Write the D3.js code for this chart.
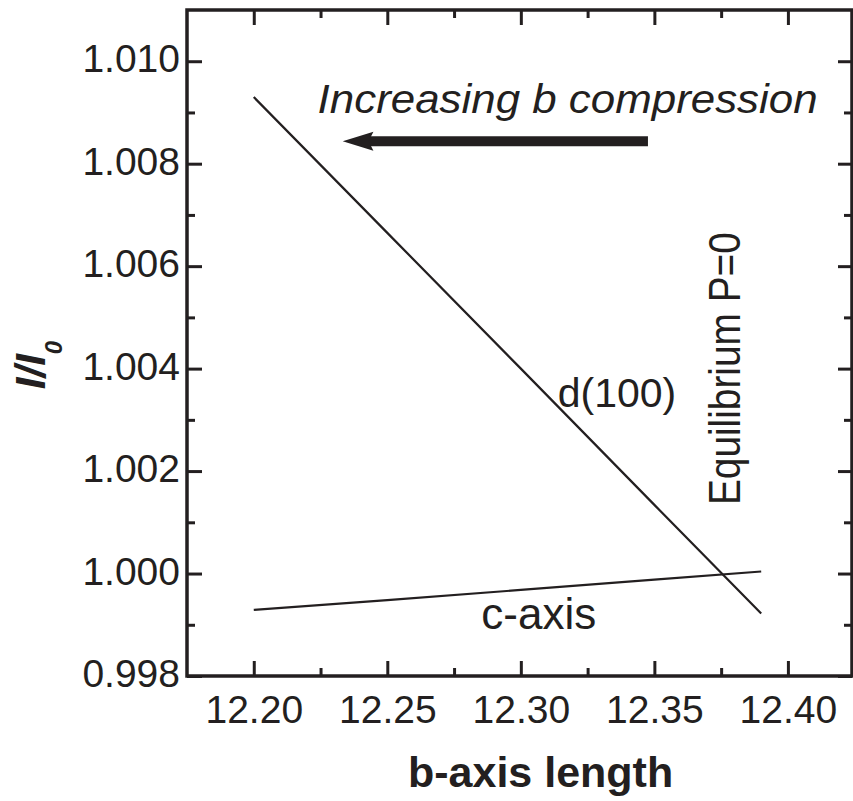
<!DOCTYPE html>
<html>
<head>
<meta charset="utf-8">
<script src="https://cdn.jsdelivr.net/npm/d3@7"></script>
<style>
  body { margin: 0; background: #fff; }
  svg text { font-family: "Liberation Sans", Arial, sans-serif; fill: #231f20; }
</style>
</head>
<body>
<div id="chart"></div>
<script>
var width = 853,
    height = 801,
    ink = "#231f20";

// data
var bLength = [12.20, 12.25, 12.30, 12.35, 12.39];
var d100 = [1.00930, 1.00665, 1.00400, 1.00134, 0.99922];
var cAxis = [0.99929, 0.99948, 0.99968, 0.99988, 1.00004];

var xTicks = [12.20, 12.25, 12.30, 12.35, 12.40];
var xMinor = [12.225, 12.275, 12.325, 12.375];
var yTicks = [0.998, 1.000, 1.002, 1.004, 1.006, 1.008, 1.010];
var yMinor = [0.999, 1.001, 1.003, 1.005, 1.007, 1.009];

var svg = d3.select("#chart").append("svg")
  .attr("width", width)
  .attr("height", height);

// plot box edges (window.top is read-only, so no bare "top")
var boxL = 187, boxR = 852, boxT = 10, boxB = 676;

var x = d3.scaleLinear().domain([12.175, 12.424]).range([boxL, boxR]);
var y = d3.scaleLinear().domain([0.998, 1.011]).range([boxB, boxT]);

// axes, ticks pointing inward on all four sides
function styleAxis(sel) {
  sel.select(".domain").remove();
  sel.selectAll(".tick line").attr("stroke", ink).attr("stroke-width", 3);
  sel.selectAll(".tick text").style("font-size", "39px").attr("fill", ink);
}

svg.append("g").attr("transform", "translate(0," + boxB + ")")
  .call(d3.axisBottom(x).tickValues(xTicks).tickFormat(d3.format(".2f")).tickSize(-15).tickPadding(19))
  .call(styleAxis);
svg.append("g").attr("transform", "translate(0," + boxB + ")")
  .call(d3.axisBottom(x).tickValues(xMinor).tickFormat("").tickSize(-8))
  .call(styleAxis);
svg.append("g").attr("transform", "translate(0," + boxT + ")")
  .call(d3.axisTop(x).tickValues(xTicks).tickFormat("").tickSize(-15))
  .call(styleAxis);
svg.append("g").attr("transform", "translate(0," + boxT + ")")
  .call(d3.axisTop(x).tickValues(xMinor).tickFormat("").tickSize(-8))
  .call(styleAxis);

svg.append("g").attr("transform", "translate(" + boxL + ",0)")
  .call(d3.axisLeft(y).tickValues(yTicks).tickFormat(d3.format(".3f")).tickSize(-15).tickPadding(7))
  .call(styleAxis)
  .selectAll(".tick text").attr("dy", "0.27em");
svg.append("g").attr("transform", "translate(" + boxL + ",0)")
  .call(d3.axisLeft(y).tickValues(yMinor).tickFormat("").tickSize(-8))
  .call(styleAxis);
svg.append("g").attr("transform", "translate(" + boxR + ",0)")
  .call(d3.axisRight(y).tickValues(yTicks).tickFormat("").tickSize(-14))
  .call(styleAxis);
svg.append("g").attr("transform", "translate(" + boxR + ",0)")
  .call(d3.axisRight(y).tickValues(yMinor).tickFormat("").tickSize(-8))
  .call(styleAxis);

// frame
svg.append("rect")
  .attr("x", boxL).attr("y", boxT)
  .attr("width", boxR - boxL).attr("height", boxB - boxT)
  .attr("fill", "none")
  .attr("stroke", ink)
  .attr("stroke-width", 3.5);

// curves
var line = d3.line()
  .x(function(d) { return x(d[0]); })
  .y(function(d) { return y(d[1]); });

[d100, cAxis].forEach(function(series) {
  svg.append("path")
    .datum(bLength.map(function(b, i) { return [b, series[i]]; }))
    .attr("d", line)
    .attr("fill", "none")
    .attr("stroke", ink)
    .attr("stroke-width", 2.2);
});

// arrow
var ay = y(1.00844);
svg.append("line")
  .attr("x1", x(12.3476)).attr("x2", x(12.2420))
  .attr("y1", ay).attr("y2", ay)
  .attr("stroke", ink)
  .attr("stroke-width", 10);
svg.append("path")
  .attr("d", "M" + x(12.2333) + "," + ay +
             "L" + x(12.2448) + "," + (ay - 9.5) +
             "L" + x(12.2430) + "," + ay +
             "L" + x(12.2448) + "," + (ay + 9.5) + "Z")
  .attr("fill", ink);

// annotations
svg.append("text")
  .attr("x", x(12.2239)).attr("y", y(1.008985))
  .attr("textLength", 500)
  .attr("lengthAdjust", "spacingAndGlyphs")
  .style("font-size", "40px")
  .style("font-style", "italic")
  .text("Increasing b compression");

svg.append("text")
  .attr("x", x(12.3138)).attr("y", y(1.00325))
  .style("font-size", "41px")
  .text("d(100)");

svg.append("text")
  .attr("x", x(12.2852)).attr("y", y(0.99892))
  .style("font-size", "44px")
  .text("c-axis");

svg.append("text")
  .attr("transform", "translate(" + x(12.3821) + "," + y(1.0040) + ")rotate(-90)")
  .attr("text-anchor", "middle")
  .attr("textLength", 273)
  .attr("lengthAdjust", "spacingAndGlyphs")
  .style("font-size", "45px")
  .text("Equilibrium P=0");

// axis titles
svg.append("text")
  .attr("x", 408).attr("y", 787)
  .style("font-size", "43px")
  .style("font-weight", "bold")
  .text("b-axis length");

var yl = svg.append("text")
  .attr("transform", "translate(45,365)rotate(-90)")
  .attr("text-anchor", "middle")
  .style("font-weight", "bold")
  .style("font-style", "italic");
yl.append("tspan").style("font-size", "42px").text("I/I");
yl.append("tspan").attr("dy", 17).style("font-size", "24px").text("0");
</script>
</body>
</html>
